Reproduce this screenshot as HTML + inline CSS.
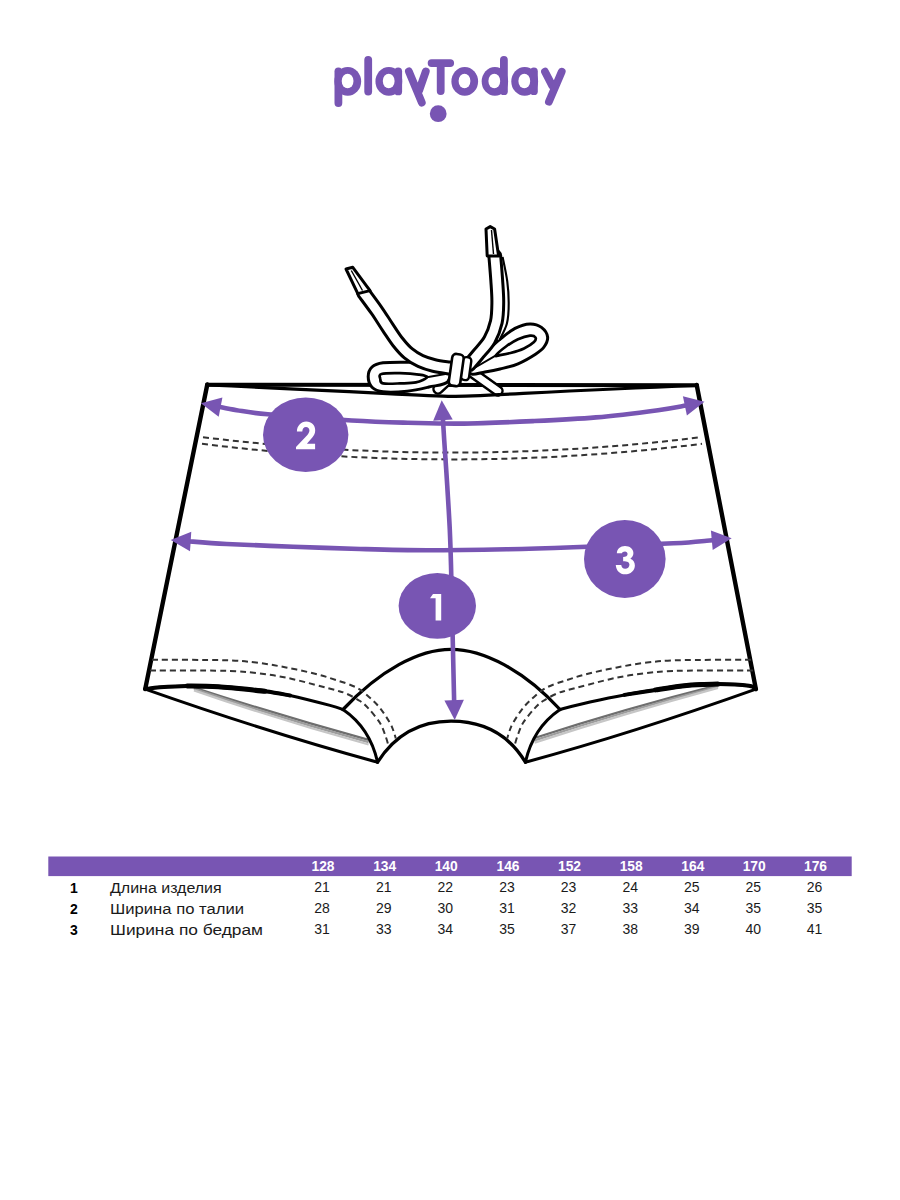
<!DOCTYPE html>
<html><head><meta charset="utf-8">
<style>
html,body{margin:0;padding:0;background:#fff;}
body{width:900px;height:1200px;overflow:hidden;font-family:"Liberation Sans",sans-serif;}
svg{display:block;position:absolute;left:0;top:0;}
text{font-family:"Liberation Sans",sans-serif;}
</style></head><body>
<svg width="900" height="1200" viewBox="0 0 900 1200">
<rect width="900" height="1200" fill="#fff"/>
<g fill="none" stroke="#7855b3" stroke-width="7.8" stroke-linecap="round" stroke-linejoin="round">
<path d="M338.4,71.3V103.1"/>
<path d="M368.2,59.8V91.5"/>
<path d="M398.2,71.3V91.4"/>
<path d="M408.9,71.4L421.8,102.6M425.8,71.4L419.1,90.6"/>
<path d="M431.6,63.1H450.2M440.7,63.1V91.1"/>
<path d="M503.9,60V91.2"/>
<path d="M533.9,71.3V91.2"/>
<path d="M545,71.7L552.2,85.6M561.7,71.7L548.9,101.7"/>
</g>
<ellipse cx="347.75" cy="81.4" rx="13.40" ry="14.45" fill="#7855b3"/><ellipse cx="347.60" cy="81" rx="5.9" ry="7.3" fill="#fff"/>
<ellipse cx="388.85" cy="81.4" rx="13.40" ry="14.45" fill="#7855b3"/><ellipse cx="388.70" cy="81" rx="5.9" ry="7.3" fill="#fff"/>
<ellipse cx="464.75" cy="81.4" rx="13.35" ry="14.45" fill="#7855b3"/><ellipse cx="464.50" cy="81" rx="5.9" ry="7.3" fill="#fff"/>
<ellipse cx="494.90" cy="81.4" rx="13.20" ry="14.45" fill="#7855b3"/><ellipse cx="494.30" cy="81" rx="5.9" ry="7.3" fill="#fff"/>
<ellipse cx="524.70" cy="81.4" rx="13.40" ry="14.45" fill="#7855b3"/><ellipse cx="524.30" cy="81" rx="5.9" ry="7.3" fill="#fff"/>
<circle cx="438.2" cy="113.7" r="8.4" fill="#7855b3"/>
<g fill="none" stroke="#000" stroke-linecap="round" stroke-linejoin="round">
<path d="M194.0,687.5 Q281.1,716.0 368.6,739.9" stroke="#6e6e6e" stroke-width="2.3" stroke-linecap="butt"/>
<path d="M194.0,688.9 Q281.1,718.3 368.6,742.2" stroke="#9c9c9c" stroke-width="2.3" stroke-linecap="butt"/>
<path d="M194.0,690.3 Q281.1,720.6 368.6,744.5" stroke="#c6c6c6" stroke-width="2.3" stroke-linecap="butt"/>
<path d="M718.0,685.1 Q625.0,708.7 534.6,738.0" stroke="#6e6e6e" stroke-width="2.3" stroke-linecap="butt"/>
<path d="M718.0,686.5 Q625.0,711.0 534.6,740.3" stroke="#9c9c9c" stroke-width="2.3" stroke-linecap="butt"/>
<path d="M718.0,687.9 Q625.0,713.3 534.6,742.6" stroke="#c6c6c6" stroke-width="2.3" stroke-linecap="butt"/>
<path d="M207.3,384.5 L145.2,689.1" stroke-width="4.4"/>
<path d="M696.7,385 L755.9,689.1" stroke-width="4.4"/>
<path d="M207,384.8 L697,385.3" stroke-width="4"/>
<path d="M145.2,689.1 C147.7,688.8 153.0,687.7 160.0,687.2 C167.0,686.7 177.5,686.0 187.2,685.9 C196.9,685.8 205.3,685.9 218.3,686.8 C231.3,687.7 253.1,689.8 265.0,691.2 C276.9,692.7 279.2,693.1 290.0,695.5 C300.8,697.9 321.2,703.1 330.0,705.4 C338.8,707.7 340.8,708.8 343.0,709.5" stroke-width="3"/>
<path d="M755.9,689.1 C754.7,688.5 755.2,686.6 748.9,685.8 C742.5,685.0 728.2,684.2 717.8,684.1 C707.4,684.0 697.1,684.4 686.7,685.4 C676.3,686.4 666.0,688.3 655.6,689.9 C645.2,691.5 635.4,692.9 624.5,694.9 C613.6,696.9 600.8,699.6 590.0,702.0 C579.2,704.4 565.0,708.2 560.0,709.5" stroke-width="3"/>
<path d="M145.2,689.1 C147.7,688.8 153.0,687.7 160.0,687.2 C167.0,686.7 177.5,686.0 187.2,685.9 C196.9,685.8 205.3,685.9 218.3,686.8 C231.3,687.7 253.1,689.8 265.0,691.2 C276.9,692.7 285.8,694.8 290.0,695.5" stroke-width="4" stroke-linecap="round"/>
<path d="M755.9,689.1 C754.7,688.5 755.2,686.6 748.9,685.8 C742.5,685.0 728.2,684.2 717.8,684.1 C707.4,684.0 697.1,684.4 686.7,685.4 C676.3,686.4 666.0,688.3 655.6,689.9 C645.2,691.5 629.7,694.1 624.5,694.9" stroke-width="4" stroke-linecap="round"/>
<path d="M187.2,685.9 C192.4,686.0 205.3,685.9 218.3,686.8 C231.3,687.7 257.2,690.5 265.0,691.2" stroke-width="5" stroke-linecap="round"/>
<path d="M717.8,684.1 C712.6,684.3 697.1,684.4 686.7,685.4 C676.3,686.4 660.8,689.1 655.6,689.9" stroke-width="5" stroke-linecap="round"/>
<path d="M145.2,689.1 Q270,733 377.6,762.2" stroke-width="3"/>
<path d="M755.9,689.1 Q633,733 525.4,762.2" stroke-width="3"/>
<path d="M343,709.5 Q370,728 377.6,762.2" stroke-width="3"/>
<path d="M560,709.5 Q533,728 525.4,762.2" stroke-width="3"/>
<path d="M343,709.5 C380,670 419,649.3 451,649.3 C483,649.3 524,670 560,709.5" stroke-width="3.3"/>
<path d="M377.6,762.2 C395,735 419,721.2 451,721.2 C483,721.2 509,735 525.4,762.2" stroke-width="3.3"/>
<g stroke="#333" stroke-width="2" stroke-dasharray="6 4" stroke-linecap="butt">
<path d="M203,437.2 Q452,468 701,437.2"/>
<path d="M202,443.8 Q452,475 702,443.8"/>
<path d="M152.0,659.8 C164.0,659.9 206.7,659.7 224.0,660.2 C241.3,660.7 245.7,661.4 256.0,662.6 C266.3,663.8 276.0,665.5 286.0,667.4 C296.0,669.3 307.7,671.9 316.0,674.0 C324.3,676.1 329.3,677.8 336.0,680.0 C342.7,682.2 350.5,684.5 356.0,687.3 C361.5,690.1 365.0,693.5 369.0,697.0 C373.0,700.5 376.5,703.7 380.0,708.0 C383.5,712.3 387.8,719.2 390.0,723.0 C392.2,726.8 392.5,728.4 393.5,731.0 C394.5,733.6 395.4,737.2 395.8,738.5"/>
<path d="M150.0,670.4 C162.3,670.5 206.3,670.4 224.0,670.8 C241.7,671.2 245.7,671.9 256.0,673.0 C266.3,674.1 276.0,675.6 286.0,677.6 C296.0,679.6 307.7,682.9 316.0,685.0 C324.3,687.1 331.0,688.9 336.0,690.3 C341.0,691.7 342.0,691.7 346.0,693.5 C350.0,695.3 356.2,698.4 360.0,701.0 C363.8,703.6 365.7,705.3 369.0,709.0 C372.3,712.7 377.2,718.5 380.0,723.0 C382.8,727.5 384.1,732.3 385.5,736.0 C386.9,739.7 387.8,743.5 388.3,745.0"/>
<path d="M751.0,659.8 C739.0,659.9 696.3,659.7 679.0,660.2 C661.7,660.7 657.3,661.4 647.0,662.6 C636.7,663.8 627.0,665.5 617.0,667.4 C607.0,669.3 595.3,671.9 587.0,674.0 C578.7,676.1 573.7,677.8 567.0,680.0 C560.3,682.2 552.5,684.5 547.0,687.3 C541.5,690.1 538.0,693.5 534.0,697.0 C530.0,700.5 526.5,703.7 523.0,708.0 C519.5,712.3 515.2,719.2 513.0,723.0 C510.8,726.8 510.5,728.4 509.5,731.0 C508.5,733.6 507.6,737.2 507.2,738.5"/>
<path d="M753.0,670.4 C740.7,670.5 696.7,670.4 679.0,670.8 C661.3,671.2 657.3,671.9 647.0,673.0 C636.7,674.1 627.0,675.6 617.0,677.6 C607.0,679.6 595.3,682.9 587.0,685.0 C578.7,687.1 572.0,688.9 567.0,690.3 C562.0,691.7 561.0,691.7 557.0,693.5 C553.0,695.3 546.8,698.4 543.0,701.0 C539.2,703.6 537.3,705.3 534.0,709.0 C530.7,712.7 525.8,718.5 523.0,723.0 C520.2,727.5 518.9,732.3 517.5,736.0 C516.1,739.7 515.2,743.5 514.7,745.0"/>
</g>
</g>
<path d="M452,376 L438,389" fill="none" stroke="#000" stroke-width="11.5" stroke-linecap="round" stroke-linejoin="round"/>
<path d="M452,376 L438,389" fill="none" stroke="#fff" stroke-width="6.5" stroke-linecap="round" stroke-linejoin="round"/>
<path d="M470,371 L498,391" fill="none" stroke="#000" stroke-width="11.5" stroke-linecap="round" stroke-linejoin="round"/>
<path d="M470,371 L498,391" fill="none" stroke="#fff" stroke-width="6.5" stroke-linecap="round" stroke-linejoin="round"/>
<path d="M446.0,363.5 C439.2,360.3 417.7,362.3 407.2,362.2 C396.7,362.1 388.9,362.0 383.0,362.8 C377.1,363.6 374.5,364.7 372.0,367.0 C369.5,369.3 368.2,373.2 368.2,376.6 C368.2,380.0 369.5,384.7 372.0,387.2 C374.5,389.7 377.1,391.1 383.0,391.8 C388.9,392.5 399.6,392.0 407.2,391.2 C414.8,390.4 422.1,388.6 428.9,387.0 C435.7,385.4 445.1,385.4 448.0,381.5 C450.9,377.6 452.8,366.7 446.0,363.5Z" fill="#fff" stroke="#000" stroke-width="3.0" stroke-linejoin="round"/>
<path d="M381.5,374.0 C384.8,373.0 393.8,373.1 400.0,373.2 C406.2,373.3 414.3,373.9 418.8,374.6 C423.3,375.3 427.5,375.9 427.0,377.2 C426.5,378.5 420.4,381.4 415.9,382.4 C411.4,383.4 405.5,383.2 400.0,383.4 C394.5,383.6 386.3,384.1 383.0,383.4 C379.7,382.7 380.6,380.6 380.3,379.0 C380.1,377.4 378.2,375.0 381.5,374.0Z" fill="#fff" stroke="#000" stroke-width="2.7" stroke-linejoin="round"/>
<path d="M471.0,364.0 C473.3,360.4 480.2,356.7 485.0,352.6 C489.8,348.5 495.0,343.4 500.0,339.4 C505.0,335.3 510.0,330.9 515.0,328.3 C520.0,325.7 525.6,324.0 530.0,323.9 C534.4,323.8 538.6,325.2 541.5,327.4 C544.4,329.6 547.2,333.7 547.6,337.0 C548.0,340.3 546.0,344.1 544.0,347.0 C542.0,349.9 539.8,351.4 535.5,354.2 C531.2,357.0 523.9,361.3 518.0,363.8 C512.1,366.3 505.5,367.6 500.0,369.0 C494.5,370.4 489.8,371.2 485.0,372.0 C480.2,372.8 473.3,375.3 471.0,374.0 C468.7,372.7 468.7,367.6 471.0,364.0Z" fill="#fff" stroke="#000" stroke-width="3.0" stroke-linejoin="round"/>
<path d="M496.0,355.3 C497.0,353.9 502.3,349.2 506.0,346.5 C509.7,343.8 514.0,341.0 518.0,339.2 C522.0,337.4 527.1,335.9 530.0,335.6 C532.9,335.3 534.7,336.3 535.4,337.4 C536.1,338.5 535.9,340.2 534.0,342.0 C532.1,343.8 527.9,346.6 524.0,348.4 C520.1,350.2 514.5,351.9 510.5,353.0 C506.5,354.1 502.4,354.8 500.0,355.2 C497.6,355.6 495.0,356.8 496.0,355.3Z" fill="#fff" stroke="#000" stroke-width="2.7" stroke-linejoin="round"/>
<path d="M427,377.2 L451,373 M496,355.3 L470,370.5" stroke="#000" stroke-width="2" fill="none"/>
<path d="M497.0,258.0 C497.8,262.0 500.6,274.5 501.6,282.0 C502.6,289.5 503.0,296.3 503.0,303.0 C503.0,309.7 502.9,316.2 501.4,322.0 C499.9,327.8 495.2,335.3 494.0,338.0" fill="none" stroke="#000" stroke-width="13.5" stroke-linecap="butt" stroke-linejoin="round"/>
<path d="M497.0,258.0 C497.8,262.0 500.6,274.5 501.6,282.0 C502.6,289.5 503.0,296.3 503.0,303.0 C503.0,309.7 502.9,316.2 501.4,322.0 C499.9,327.8 495.2,335.3 494.0,338.0" fill="none" stroke="#fff" stroke-width="9.3" stroke-linecap="butt" stroke-linejoin="round"/>
<path d="M494.8,256.0 C495.1,260.0 496.2,272.2 496.7,280.0 C497.2,287.8 497.9,295.5 497.8,302.5 C497.7,309.5 497.7,315.8 496.3,322.0 C494.9,328.2 492.6,334.5 489.5,340.0 C486.4,345.5 480.9,350.8 477.5,355.0 C474.1,359.2 470.4,363.3 469.0,365.0" fill="none" stroke="#000" stroke-width="14.8" stroke-linecap="round" stroke-linejoin="round"/>
<path d="M494.8,256.0 C495.1,260.0 496.2,272.2 496.7,280.0 C497.2,287.8 497.9,295.5 497.8,302.5 C497.7,309.5 497.7,315.8 496.3,322.0 C494.9,328.2 492.6,334.5 489.5,340.0 C486.4,345.5 480.9,350.8 477.5,355.0 C474.1,359.2 470.4,363.3 469.0,365.0" fill="none" stroke="#fff" stroke-width="8.8" stroke-linecap="round" stroke-linejoin="round"/>
<path d="M363.5,292.5 C365.6,295.4 372.2,304.2 376.3,310.0 C380.4,315.8 384.2,322.2 387.8,327.5 C391.4,332.8 394.4,337.7 397.8,342.0 C401.2,346.3 404.4,350.1 408.2,353.3 C412.0,356.5 416.2,359.0 420.5,361.0 C424.8,363.0 429.2,364.3 434.0,365.5 C438.8,366.7 446.5,367.6 449.0,368.0" fill="none" stroke="#000" stroke-width="15.0" stroke-linecap="round" stroke-linejoin="round"/>
<path d="M363.5,292.5 C365.6,295.4 372.2,304.2 376.3,310.0 C380.4,315.8 384.2,322.2 387.8,327.5 C391.4,332.8 394.4,337.7 397.8,342.0 C401.2,346.3 404.4,350.1 408.2,353.3 C412.0,356.5 416.2,359.0 420.5,361.0 C424.8,363.0 429.2,364.3 434.0,365.5 C438.8,366.7 446.5,367.6 449.0,368.0" fill="none" stroke="#fff" stroke-width="9.0" stroke-linecap="round" stroke-linejoin="round"/>
<polygon points="346,269 352.8,267.3 370,290.6 357.8,293.6" fill="#fff" stroke="#000" stroke-width="3" stroke-linejoin="round"/>
<path d="M351.3,270.5 L362.5,290.5" stroke="#000" stroke-width="1.4" fill="none"/>
<polygon points="486,229 490.2,226.6 494.6,229 498.6,256 487.2,256" fill="#fff" stroke="#000" stroke-width="3" stroke-linejoin="round"/>
<path d="M491.5,230 L493.5,254" stroke="#000" stroke-width="1.4" fill="none"/>
<rect x="461.5" y="357" width="8.5" height="23" rx="3.5" fill="#fff" stroke="#000" stroke-width="2.4" transform="rotate(8 465 370)"/>
<rect x="450.5" y="354" width="11.5" height="32" rx="4" fill="#fff" stroke="#000" stroke-width="2.6" transform="rotate(8 456 370)"/>
<path d="M207,385 C360,391.3 425,396.3 452,396.3 C479,396.3 544,391.6 697,385.5" fill="none" stroke="#000" stroke-width="3.2"/>
<g fill="none" stroke="#7855b3" stroke-width="4.6">
<path d="M217.6,406.5 C220.8,407.1 228.3,408.9 236.7,410.2 C245.1,411.5 248.6,412.6 267.8,414.3 C287.0,416.0 328.5,419.1 351.8,420.5 C375.1,421.9 389.1,422.2 407.8,422.7 C426.5,423.2 442.9,423.9 463.8,423.6 C484.7,423.3 511.0,422.1 533.0,421.1 C555.0,420.1 575.2,419.2 596.0,417.4 C616.8,415.6 643.0,412.2 658.0,410.2 C673.0,408.2 681.0,406.4 686.0,405.6 C691.0,404.8 687.5,405.3 687.8,405.2"/>
<path d="M187.7,541.2 C194.2,541.7 209.1,543.1 226.7,544.0 C244.3,544.9 271.1,545.9 293.3,546.7 C315.5,547.5 337.8,548.4 360.0,549.0 C382.2,549.6 402.2,550.2 426.7,550.3 C451.1,550.3 482.3,549.8 506.7,549.3 C531.1,548.8 545.5,548.3 573.3,547.3 C601.1,546.3 651.1,544.4 673.3,543.3 C695.5,542.2 699.8,541.3 706.7,540.7 C713.6,540.1 713.4,540.1 714.8,539.9"/>
<path d="M442.8,417.2 C443.0,421.0 443.5,428.7 444.2,440.0 C444.9,451.3 446.3,470.0 447.2,485.0 C448.1,500.0 449.2,516.7 449.8,530.0 C450.4,543.3 450.5,546.2 451.0,565.0 C451.5,583.8 452.3,620.8 452.8,642.5 C453.3,664.2 453.8,684.9 454.0,695.0 C454.2,705.1 454.2,701.8 454.2,703.1"/>
</g>
<polygon points="200.9,403.3 222.4,397.5 218.7,416.7" fill="#7855b3"/>
<polygon points="704.5,401.8 686.9,415.4 682.9,396.3" fill="#7855b3"/>
<polygon points="170.7,540.0 191.3,531.7 190.0,551.2" fill="#7855b3"/>
<polygon points="731.7,538.3 712.7,549.9 710.9,530.5" fill="#7855b3"/>
<polygon points="441.7,400.2 452.7,419.5 433.2,420.8" fill="#7855b3"/>
<polygon points="454.7,720.1 444.4,700.4 463.9,699.8" fill="#7855b3"/>
<ellipse cx="305.7" cy="434.7" rx="42.7" ry="37.3" fill="#7855b3"/>
<ellipse cx="624.8" cy="559" rx="40.8" ry="39" fill="#7855b3"/>
<ellipse cx="437.3" cy="605.8" rx="38.7" ry="32.9" fill="#7855b3"/>
<polygon points="430,598.2 433,594 441.2,594 441.2,620.6 435.6,620.6 435.6,598.2" fill="#fff"/>
<path d="M296.9,431.6 C296.9,426 301,421.6 306.3,421.6 C311.5,421.6 315.2,425.5 315.2,430.3 C315.2,433.5 314,435.5 312.5,437.2 L306.9,443.7 H315.1 V449.3 H296 V447 L307.4,434.9 C308.8,433.3 309.4,432 309.4,430.3 C309.4,428.3 308,426.9 306,426.9 C303.8,426.9 302.3,428.6 302.3,431.6 Z" fill="#fff"/>
<path d="M616.83,553.33 C617.07,549.13 620.33,546.10 625.00,546.10 C629.66,546.10 633.40,548.90 633.40,553.10 C633.40,555.67 632.23,557.53 630.36,558.70 C633.16,559.87 634.89,562.20 634.89,565.46 C634.89,570.60 630.60,574.33 625.00,574.33 C619.87,574.33 616.13,570.60 615.76,565.00 L621.27,565.00 C621.50,567.33 622.90,568.82 625.09,568.82 C627.57,568.82 629.43,567.10 629.43,564.76 C629.43,562.43 627.57,561.27 623.13,561.27 L623.13,557.07 C625.93,557.07 627.57,555.67 627.57,554.03 C627.57,552.40 626.40,551.47 625.00,551.47 C623.37,551.47 622.20,552.17 621.97,553.33 Z" fill="#fff"/>
<rect x="48.3" y="856.5" width="803.4" height="19.6" fill="#7855b3"/>
<text x="323.0" y="871" font-size="13.8" font-weight="bold" fill="#fff" text-anchor="middle">128</text>
<text x="384.7" y="871" font-size="13.8" font-weight="bold" fill="#fff" text-anchor="middle">134</text>
<text x="446.2" y="871" font-size="13.8" font-weight="bold" fill="#fff" text-anchor="middle">140</text>
<text x="508.0" y="871" font-size="13.8" font-weight="bold" fill="#fff" text-anchor="middle">146</text>
<text x="569.5" y="871" font-size="13.8" font-weight="bold" fill="#fff" text-anchor="middle">152</text>
<text x="631.2" y="871" font-size="13.8" font-weight="bold" fill="#fff" text-anchor="middle">158</text>
<text x="692.8" y="871" font-size="13.8" font-weight="bold" fill="#fff" text-anchor="middle">164</text>
<text x="754.2" y="871" font-size="13.8" font-weight="bold" fill="#fff" text-anchor="middle">170</text>
<text x="815.5" y="871" font-size="13.8" font-weight="bold" fill="#fff" text-anchor="middle">176</text>
<text x="74" y="893.0" font-size="14" font-weight="bold" fill="#000" text-anchor="middle">1</text>
<text x="110" y="893.0" font-size="14" fill="#1a1a1a" textLength="111.7" lengthAdjust="spacingAndGlyphs">Длина изделия</text>
<text x="322.0" y="891.9" font-size="14" fill="#1a1a1a" text-anchor="middle">21</text>
<text x="383.7" y="891.9" font-size="14" fill="#1a1a1a" text-anchor="middle">21</text>
<text x="445.2" y="891.9" font-size="14" fill="#1a1a1a" text-anchor="middle">22</text>
<text x="507.0" y="891.9" font-size="14" fill="#1a1a1a" text-anchor="middle">23</text>
<text x="568.5" y="891.9" font-size="14" fill="#1a1a1a" text-anchor="middle">23</text>
<text x="630.2" y="891.9" font-size="14" fill="#1a1a1a" text-anchor="middle">24</text>
<text x="691.8" y="891.9" font-size="14" fill="#1a1a1a" text-anchor="middle">25</text>
<text x="753.2" y="891.9" font-size="14" fill="#1a1a1a" text-anchor="middle">25</text>
<text x="814.5" y="891.9" font-size="14" fill="#1a1a1a" text-anchor="middle">26</text>
<text x="74" y="914.0" font-size="14" font-weight="bold" fill="#000" text-anchor="middle">2</text>
<text x="110" y="914.0" font-size="14" fill="#1a1a1a" textLength="134.0" lengthAdjust="spacingAndGlyphs">Ширина по талии</text>
<text x="322.0" y="912.7" font-size="14" fill="#1a1a1a" text-anchor="middle">28</text>
<text x="383.7" y="912.7" font-size="14" fill="#1a1a1a" text-anchor="middle">29</text>
<text x="445.2" y="912.7" font-size="14" fill="#1a1a1a" text-anchor="middle">30</text>
<text x="507.0" y="912.7" font-size="14" fill="#1a1a1a" text-anchor="middle">31</text>
<text x="568.5" y="912.7" font-size="14" fill="#1a1a1a" text-anchor="middle">32</text>
<text x="630.2" y="912.7" font-size="14" fill="#1a1a1a" text-anchor="middle">33</text>
<text x="691.8" y="912.7" font-size="14" fill="#1a1a1a" text-anchor="middle">34</text>
<text x="753.2" y="912.7" font-size="14" fill="#1a1a1a" text-anchor="middle">35</text>
<text x="814.5" y="912.7" font-size="14" fill="#1a1a1a" text-anchor="middle">35</text>
<text x="74" y="935.0" font-size="14" font-weight="bold" fill="#000" text-anchor="middle">3</text>
<text x="110" y="935.0" font-size="14" fill="#1a1a1a" textLength="153.0" lengthAdjust="spacingAndGlyphs">Ширина по бедрам</text>
<text x="322.0" y="933.5" font-size="14" fill="#1a1a1a" text-anchor="middle">31</text>
<text x="383.7" y="933.5" font-size="14" fill="#1a1a1a" text-anchor="middle">33</text>
<text x="445.2" y="933.5" font-size="14" fill="#1a1a1a" text-anchor="middle">34</text>
<text x="507.0" y="933.5" font-size="14" fill="#1a1a1a" text-anchor="middle">35</text>
<text x="568.5" y="933.5" font-size="14" fill="#1a1a1a" text-anchor="middle">37</text>
<text x="630.2" y="933.5" font-size="14" fill="#1a1a1a" text-anchor="middle">38</text>
<text x="691.8" y="933.5" font-size="14" fill="#1a1a1a" text-anchor="middle">39</text>
<text x="753.2" y="933.5" font-size="14" fill="#1a1a1a" text-anchor="middle">40</text>
<text x="814.5" y="933.5" font-size="14" fill="#1a1a1a" text-anchor="middle">41</text>
</svg>
</body></html>
